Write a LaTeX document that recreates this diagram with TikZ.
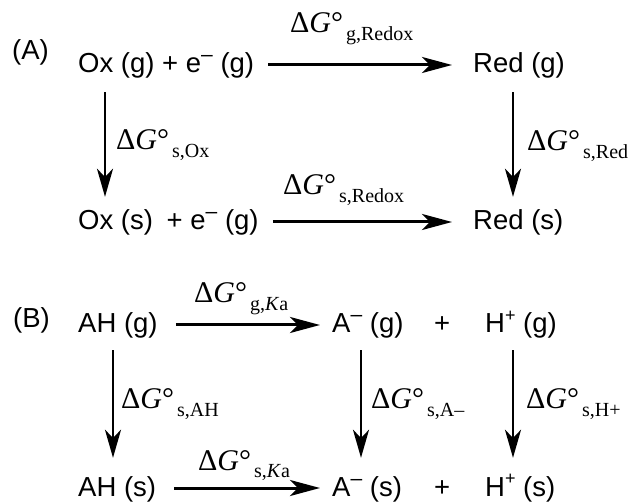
\documentclass[tikz,border=0pt]{standalone}
\usepackage{fontspec}
\setmainfont{Liberation Sans}
\newfontfamily\tnr{Liberation Serif}
\usetikzlibrary{arrows.meta,calc}
\newcommand{\sups}[1]{\raisebox{0.42em}{\fontsize{18}{18}\selectfont #1}}
\newcommand{\supm}{\raisebox{0.4em}{\fontsize{21}{21}\selectfont –}}
\newcommand{\dG}[1]{{\tnr\fontsize{30}{30}\selectfont Δ\textit{G}°\hspace{3pt}\raisebox{-8pt}{\fontsize{20}{20}\selectfont #1}}}
\begin{document}
\begin{tikzpicture}[x=1pt,y=-1pt,
  sp/.style={inner sep=0pt, anchor=base west, font=\fontsize{27.5}{27.5}\selectfont, text height=19pt, text depth=3pt},
  lab/.style={inner sep=0pt, anchor=base west},
  harr/.style={line width=3pt, -{Stealth[length=30pt,width=16pt,inset=8pt]}},
  varr/.style={line width=2.2pt, -{Stealth[length=28pt,width=16pt,inset=8pt]}}]
\useasboundingbox (0,0) rectangle (632,502);
% (A)
\node[sp] (tagA) at (12,60) {(A)};
\node[sp] (oxg) at (78,73) {Ox (g) + e\supm{} (g)};
\node[sp] (redg) at (473,73) {Red (g)};
\node[sp] (oxs) at (78,230) {Ox (s)\hspace{6pt} + e\supm{} (g)};
\node[sp] (reds) at (473,230) {Red (s)};
\draw[harr, shorten <=14pt, shorten >=21pt] (oxg) -- (redg);
\draw[harr, shorten <=14pt, shorten >=21pt] (oxs) -- (reds);
\draw[varr, shorten <=16pt, shorten >=14pt] ([xshift=27pt]oxg.south west) -- ([xshift=27pt]oxs.north west);
\draw[varr, shorten <=16pt, shorten >=14pt] ([xshift=40pt]redg.south west) -- ([xshift=40pt]reds.north west);
\node[lab] (lgr) at (290,33) {\dG{g,Redox}};
\node[lab] (lsr) at (283,195) {\dG{s,Redox}};
\node[lab] (lox) at (116,150) {\dG{s,Ox}};
\node[lab] (lred) at (527,151) {\dG{s,Red}};
% (B)
\node[sp] (tagB) at (13,328) {(B)};
\node[sp] (ahg) at (78,333) {AH (g)};
\node[sp] (amg) at (332,333) {A\supm{} (g)};
\node[sp] (plg) at (434,333) {+};
\node[sp] (hpg) at (485,333) {H\sups{+} (g)};
\node[sp] (ahs) at (78,496) {AH (s)};
\node[sp] (ams) at (332,496) {A\supm{} (s)};
\node[sp] (pls) at (434,496) {+};
\node[sp] (hps) at (485,496) {H\sups{+} (s)};
\draw[harr, shorten <=18pt, shorten >=12pt] (ahg) -- (amg);
\draw[harr, shorten <=18pt, shorten >=12pt] (ahs) -- (ams);
\draw[varr, shorten <=14pt, shorten >=19pt] ([xshift=35pt]ahg.south west) -- ([xshift=35pt]ahs.north west);
\draw[varr, shorten <=14pt, shorten >=19pt] ([xshift=29pt]amg.south west) -- ([xshift=29pt]ams.north west);
\draw[varr, shorten <=14pt, shorten >=19pt] ([xshift=28pt]hpg.south west) -- ([xshift=28pt]hps.north west);
\node[lab] (lgk) at (194,303) {\dG{g,\textit{K}a}};
\node[lab] (lsk) at (198,470) {\dG{s,\textit{K}a}};
\node[lab] (lah) at (121,409) {\dG{s,AH}};
\node[lab] (lam) at (371,409) {\dG{s,A–}};
\node[lab] (lhp) at (526,409) {\dG{s,H+}};
\end{tikzpicture}
\end{document}
